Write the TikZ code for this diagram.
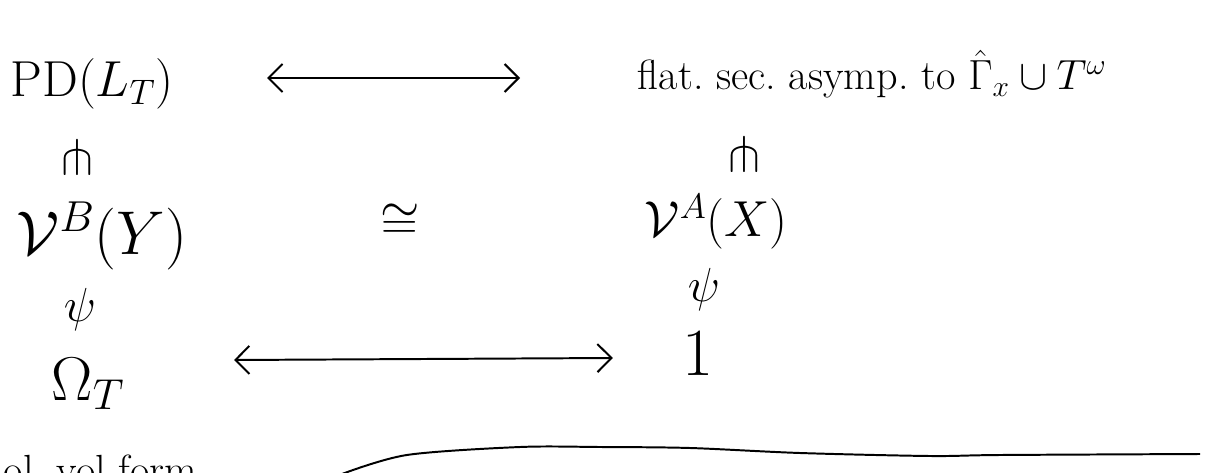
\documentclass[tikz,border=0pt]{standalone}
\usepackage{fix-cm}
\usepackage{amsmath,amssymb}
\usetikzlibrary{arrows.meta}
\begin{document}
\begin{tikzpicture}[x=1cm,y=1cm,line width=1.4pt,
  hugemath/.style={font=\fontsize{44}{50}\selectfont},
  bigmath/.style={font=\fontsize{36}{42}\selectfont},
  textline/.style={font=\fontsize{30}{34}\selectfont},
  symb/.style={font=\fontsize{34}{40}\selectfont},
  dblarrow/.style={{Straight Barb[length=3.5mm,width=7mm]}-{Straight Barb[length=3.5mm,width=7mm]}}]
\useasboundingbox (0,0) rectangle (30.375,11.8);
\clip (0,0) rectangle (30.375,11.8);
% top row
\node[bigmath] (PD) at (2.3,9.7) {$\mathrm{PD}(L_T)$};
\node[textline,anchor=base west] (flat) at (15.8,9.55) {flat.\ sec.\ asymp.\ to $\hat{\Gamma}_x \cup T^{\omega}$};
\draw[dblarrow] ([xshift=2.2cm,yshift=0.15cm]PD.east) -- ([xshift=-2.8cm,yshift=0.3cm]flat.base west);
% middle row
\node[symb] (subl) at (1.93,7.85) {$\pitchfork$};
\node[symb] (subr) at (18.6,7.93) {$\pitchfork$};
\node[hugemath] (VB) at (2.55,5.9) {$\mathcal{V}^B(Y)$};
\node[bigmath] (iso) at (10.0,6.25) {$\cong$};
\node[bigmath] (VA) at (17.9,6.25) {$\mathcal{V}^A(X)$};
\node[symb] (inl) at (2.0,4.05) {$\psi$};
\node[symb] (inr) at (17.6,4.55) {$\psi$};
% bottom row
\node[hugemath] (Omega) at (2.2,2.2) {$\Omega_T$};
\node[font=\fontsize{48}{54}\selectfont] (one) at (17.45,2.95) {$1$};
\draw[dblarrow] ([xshift=2.6cm,yshift=0.6cm]Omega.east) -- ([xshift=-1.6cm,yshift=-0.1cm]one.west);
\node[textline,anchor=base west] (vol) at (-0.05,-0.3) {ol.\ vol form};
\draw plot[smooth] coordinates {(8.55,-0.05) (10.17,0.425) (13.0,0.625) (15.0,0.625) (17.25,0.6) (20.0,0.475) (23.25,0.4) (25.0,0.425) (30.0,0.45)};
\end{tikzpicture}
\end{document}
